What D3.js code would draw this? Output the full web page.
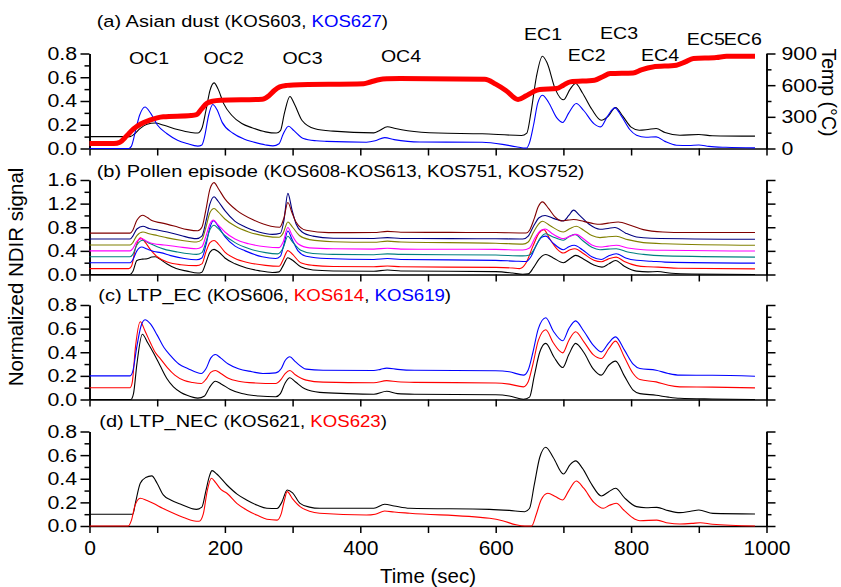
<!DOCTYPE html>
<html>
<head>
<meta charset="utf-8">
<script src="https://cdn.jsdelivr.net/npm/d3@7"></script>
<style>
  body { margin: 0; background: #fff; }
  svg { display: block; }
  text { font-family: "Liberation Sans", Arial, sans-serif; fill: #000; }
</style>
</head>
<body>
<svg id="chart" width="841" height="587"></svg>
<script>
// ---- axis ticks ----
const timeTicks = [0, 100, 200, 300, 400, 500, 600, 700, 800, 900, 1000];
const timeLabels = [0, 200, 400, 600, 800, 1000];
const signalTicks = [0, 0.2, 0.4, 0.6, 0.8];
const signalMinor = [0.1, 0.3, 0.5, 0.7];
const pollenTicks = [0, 0.4, 0.8, 1.2, 1.6];
const pollenMinor = [0.2, 0.6, 1.0, 1.4];
const tempTicks = [0, 300, 600, 900];
const tempMinor = [150, 450, 750];
const peakNames = ["OC1", "OC2", "OC3", "OC4", "EC1", "EC2", "EC3", "EC4", "EC5", "EC6"];

// ---- (a) Asian dust: [time (s), normalized signal] ----
const kos603 = [[0,0.10],[60,0.10],[66,0.12],[75,0.17],[85,0.205],[97,0.215],[110,0.195],[130,0.16],[150,0.135],[160,0.13],[166,0.17],[172,0.32],[178,0.49],[184,0.553],[190,0.5],[198,0.38],[210,0.28],[225,0.21],[240,0.175],[260,0.14],[276,0.13],[282,0.15],[288,0.3],[296,0.438],[303,0.37],[314,0.236],[333,0.166],[360,0.146],[420,0.132],[428,0.15],[440,0.183],[452,0.168],[470,0.15],[515,0.13],[580,0.124],[638,0.11],[646,0.13],[652,0.3],[660,0.6],[669,0.777],[676,0.72],[688,0.5],[700,0.41],[710,0.5],[718,0.547],[728,0.47],[742,0.33],[756,0.238],[766,0.27],[777,0.345],[788,0.27],[800,0.18],[812,0.154],[825,0.16],[837,0.168],[850,0.135],[872,0.112],[900,0.118],[920,0.108],[983,0.104]];
const kos627 = [[0,0],[58,0],[62,0.02],[68,0.15],[74,0.28],[82,0.35],[90,0.30],[100,0.2],[114,0.126],[130,0.07],[144,0.042],[160,0.02],[166,0.03],[170,0.1],[176,0.28],[182,0.37],[188,0.33],[196,0.22],[212,0.128],[228,0.08],[242,0.055],[260,0.03],[271,0.022],[280,0.04],[286,0.12],[294,0.188],[302,0.15],[316,0.084],[335,0.065],[350,0.06],[409,0.053],[422,0.065],[436,0.092],[450,0.075],[470,0.06],[488,0.055],[580,0.052],[610,0.035],[630,0.015],[645,0.003],[650,0.05],[656,0.2],[662,0.38],[669,0.449],[678,0.39],[690,0.26],[699,0.219],[708,0.3],[719,0.379],[730,0.32],[745,0.21],[755,0.182],[765,0.27],[776,0.342],[786,0.27],[798,0.16],[808,0.112],[822,0.095],[837,0.098],[850,0.06],[867,0.028],[885,0.025],[900,0.03],[915,0.018],[940,0.01],[983,0.005]];
// oven temperature program, °C
const ovenTemp = [[0,47],[36,47],[45,60],[55,120],[65,185],[75,230],[89,268],[100,290],[109,300],[150,312],[158,320],[165,370],[173,426],[182,448],[193,458],[255,467],[265,500],[273,550],[281,584],[292,598],[301,602],[405,614],[415,630],[429,654],[440,660],[459,663],[584,656],[600,610],[615,550],[633,464],[645,500],[655,536],[665,559],[690,568],[700,600],[710,631],[746,647],[758,680],[769,710],[803,716],[815,745],[832,773],[867,789],[880,820],[892,852],[926,862],[941,874],[983,874]];

// ---- (b) Pollen episode, eight samples stacked by 0.1 ----
const pollen1 = [[0,0],[60,0],[64,0.05],[70,0.238],[78,0.26],[85,0.267],[92,0.295],[97,0.30],[104,0.26],[114,0.182],[128,0.1],[144,0.057],[160,0.025],[166,0.04],[172,0.2],[178,0.38],[184,0.426],[190,0.39],[200,0.28],[215,0.18],[232,0.11],[250,0.065],[270,0.035],[280,0.045],[286,0.15],[293,0.284],[300,0.24],[312,0.13],[330,0.075],[360,0.06],[420,0.055],[440,0.075],[460,0.06],[600,0.048],[625,0.025],[640,0.003],[648,0.01],[656,0.12],[664,0.26],[674,0.338],[685,0.28],[700,0.2],[710,0.27],[718,0.323],[730,0.26],[745,0.16],[757,0.125],[767,0.18],[777,0.238],[790,0.14],[808,0.057],[825,0.045],[839,0.05],[860,0.02],[890,0.008],[983,0.0]];
const pollen2 = [[0,0.1],[58,0.1],[62,0.14],[68,0.45],[75,0.62],[82,0.55],[90,0.42],[100,0.3],[115,0.21],[135,0.165],[158,0.15],[166,0.18],[172,0.38],[178,0.54],[184,0.575],[190,0.52],[200,0.38],[215,0.27],[235,0.2],[260,0.155],[280,0.14],[286,0.25],[293,0.405],[300,0.34],[312,0.2],[330,0.155],[360,0.135],[420,0.13],[440,0.145],[460,0.13],[600,0.12],[625,0.11],[635,0.1],[645,0.2],[655,0.48],[664,0.7],[671,0.76],[680,0.6],[690,0.44],[700,0.363],[710,0.42],[717,0.437],[730,0.35],[745,0.24],[756,0.215],[766,0.26],[778,0.295],[790,0.22],[808,0.15],[825,0.13],[840,0.125],[870,0.105],[983,0.096]];
const pollen3 = [[0,0.2],[60,0.2],[64,0.25],[70,0.4],[77,0.465],[85,0.43],[95,0.39],[105,0.37],[120,0.32],[140,0.27],[158,0.25],[166,0.28],[172,0.5],[178,0.8],[183,0.91],[190,0.82],[200,0.64],[215,0.48],[230,0.4],[255,0.3],[275,0.27],[282,0.31],[287,0.5],[293,0.737],[299,0.6],[308,0.4],[320,0.31],[350,0.27],[420,0.255],[440,0.27],[460,0.255],[600,0.24],[630,0.225],[645,0.22],[652,0.3],[660,0.5],[668,0.63],[674,0.65],[684,0.54],[700,0.42],[708,0.47],[716,0.494],[728,0.42],[742,0.3],[756,0.255],[766,0.31],[778,0.352],[792,0.28],[808,0.24],[830,0.225],[850,0.21],[983,0.193]];
const pollen4 = [[0,0.3],[60,0.3],[64,0.34],[70,0.5],[79,0.579],[88,0.53],[100,0.47],[110,0.43],[130,0.38],[158,0.34],[166,0.37],[172,0.55],[178,0.76],[184,0.834],[190,0.78],[200,0.66],[215,0.54],[235,0.44],[260,0.37],[278,0.35],[286,0.45],[293,0.647],[300,0.55],[312,0.41],[330,0.355],[360,0.34],[420,0.335],[440,0.35],[460,0.34],[600,0.33],[640,0.315],[650,0.33],[658,0.45],[666,0.62],[674,0.69],[684,0.64],[700,0.58],[708,0.64],[717,0.68],[728,0.58],[742,0.46],[754,0.42],[766,0.43],[778,0.437],[795,0.38],[818,0.34],[850,0.315],[983,0.295]];
const pollen5 = [[0,0.4],[60,0.4],[64,0.44],[70,0.56],[77,0.607],[85,0.56],[95,0.52],[110,0.5],[130,0.47],[158,0.437],[166,0.47],[172,0.65],[178,0.86],[183,0.92],[190,0.84],[200,0.72],[215,0.6],[235,0.52],[260,0.47],[280,0.455],[286,0.55],[293,0.795],[299,0.67],[308,0.52],[325,0.45],[360,0.435],[420,0.43],[440,0.445],[460,0.43],[600,0.425],[640,0.415],[650,0.45],[658,0.62],[666,0.74],[673,0.77],[685,0.68],[700,0.607],[710,0.65],[719,0.68],[730,0.6],[742,0.5],[754,0.465],[766,0.48],[778,0.494],[795,0.45],[818,0.42],[850,0.41],[983,0.397]];
const pollen6 = [[0,0.5],[60,0.5],[64,0.54],[70,0.66],[79,0.72],[88,0.69],[100,0.66],[115,0.62],[135,0.58],[158,0.55],[166,0.59],[172,0.8],[178,1.05],[184,1.118],[190,1.06],[200,0.94],[215,0.82],[235,0.72],[260,0.65],[280,0.63],[286,0.7],[293,0.89],[300,0.8],[310,0.66],[325,0.59],[360,0.555],[420,0.545],[440,0.565],[460,0.55],[600,0.53],[640,0.515],[648,0.55],[656,0.72],[663,0.85],[669,0.902],[680,0.83],[700,0.72],[710,0.78],[719,0.817],[730,0.75],[742,0.66],[754,0.625],[766,0.64],[778,0.647],[795,0.59],[818,0.54],[850,0.52],[983,0.494]];
const pollen7 = [[0,0.6],[60,0.6],[64,0.65],[70,0.77],[79,0.817],[88,0.78],[100,0.755],[115,0.72],[135,0.66],[158,0.607],[166,0.65],[172,0.9],[178,1.2],[184,1.316],[190,1.24],[200,1.08],[215,0.9],[230,0.806],[250,0.72],[270,0.68],[282,0.7],[287,0.9],[293,1.373],[299,1.1],[305,0.86],[314,0.72],[330,0.65],[360,0.615],[420,0.61],[440,0.625],[460,0.61],[600,0.605],[640,0.6],[648,0.65],[656,0.82],[664,0.96],[673,1.0],[685,0.95],[700,0.907],[708,1.0],[715,1.09],[724,1.0],[738,0.85],[754,0.766],[766,0.78],[776,0.795],[792,0.7],[808,0.635],[830,0.615],[983,0.596]];
const pollen8 = [[0,0.7],[60,0.7],[64,0.75],[70,0.92],[79,1.004],[86,0.96],[93,0.908],[106,0.874],[125,0.82],[145,0.76],[160,0.74],[166,0.8],[172,1.1],[178,1.45],[184,1.555],[190,1.46],[200,1.28],[217,1.09],[243,0.919],[268,0.817],[281,0.8],[287,0.95],[293,1.22],[299,1.05],[305,0.89],[320,0.749],[353,0.709],[420,0.71],[440,0.73],[460,0.716],[600,0.71],[645,0.703],[650,0.75],[657,0.95],[663,1.15],[669,1.23],[678,1.12],[688,0.97],[697,0.907],[706,0.92],[715,0.93],[730,0.9],[745,0.86],[754,0.85],[766,0.87],[781,0.89],[800,0.83],[818,0.76],[847,0.72],[880,0.71],[983,0.71]];

// ---- (c) LTP_EC ----
const kos606 = [[0,0],[61,0],[65,0.05],[70,0.3],[78,0.553],[86,0.48],[94,0.40],[104,0.29],[114,0.18],[124,0.107],[135,0.06],[144,0.036],[160,0.012],[170,0.03],[177,0.1],[186,0.155],[195,0.13],[208,0.085],[225,0.05],[250,0.03],[275,0.023],[282,0.05],[289,0.14],[296,0.184],[304,0.15],[318,0.09],[340,0.06],[380,0.05],[420,0.045],[439,0.07],[455,0.05],[480,0.045],[600,0.04],[620,0.03],[641,0.002],[650,0.02],[657,0.2],[665,0.4],[674,0.475],[686,0.36],[699,0.271],[708,0.38],[718,0.475],[730,0.4],[744,0.26],[756,0.206],[767,0.29],[777,0.325],[790,0.2],[803,0.08],[813,0.05],[837,0.036],[855,0.02],[872,0.01],[920,0.004],[983,0.0]];
const kos614 = [[0,0.1],[60,0.1],[63,0.14],[68,0.45],[75,0.658],[82,0.58],[90,0.48],[97,0.4],[104,0.35],[115,0.27],[126,0.206],[140,0.16],[152,0.144],[165,0.135],[172,0.17],[179,0.23],[186,0.246],[194,0.22],[205,0.18],[220,0.155],[245,0.14],[275,0.135],[283,0.17],[289,0.22],[296,0.246],[304,0.21],[320,0.164],[345,0.147],[420,0.142],[439,0.16],[455,0.15],[480,0.145],[600,0.14],[620,0.13],[641,0.107],[648,0.15],[655,0.3],[663,0.5],[674,0.59],[685,0.48],[699,0.395],[708,0.5],[718,0.573],[730,0.49],[744,0.38],[756,0.347],[767,0.43],[777,0.494],[790,0.36],[803,0.22],[813,0.169],[837,0.149],[855,0.12],[872,0.107],[920,0.105],[983,0.098]];
const kos619 = [[0,0.2],[60,0.2],[64,0.24],[70,0.45],[76,0.62],[82,0.675],[90,0.64],[100,0.545],[110,0.44],[119,0.376],[132,0.3],[145,0.263],[165,0.22],[172,0.26],[179,0.35],[186,0.381],[194,0.35],[205,0.3],[220,0.26],[240,0.235],[256,0.22],[275,0.225],[283,0.26],[289,0.33],[296,0.362],[304,0.32],[320,0.257],[345,0.247],[420,0.245],[430,0.255],[439,0.266],[455,0.255],[480,0.247],[600,0.243],[620,0.235],[641,0.206],[648,0.25],[655,0.4],[663,0.6],[674,0.692],[685,0.58],[699,0.497],[708,0.6],[718,0.666],[730,0.58],[744,0.46],[756,0.403],[767,0.48],[777,0.53],[790,0.42],[803,0.3],[813,0.263],[837,0.248],[855,0.22],[872,0.206],[920,0.205],[983,0.197]];

// ---- (d) LTP_NEC ----
const kos621 = [[0,0.1],[64,0.1],[68,0.2],[75,0.362],[83,0.41],[92,0.424],[100,0.36],[109,0.263],[120,0.22],[134,0.186],[158,0.141],[166,0.16],[172,0.3],[177,0.42],[181,0.469],[188,0.44],[203,0.347],[218,0.27],[232,0.22],[248,0.175],[262,0.15],[277,0.148],[284,0.2],[292,0.305],[300,0.28],[311,0.192],[325,0.16],[340,0.15],[420,0.15],[436,0.184],[450,0.17],[473,0.15],[591,0.141],[620,0.132],[643,0.121],[650,0.15],[657,0.35],[665,0.58],[674,0.667],[685,0.58],[700,0.44],[710,0.52],[718,0.551],[728,0.49],[742,0.35],[756,0.254],[767,0.29],[777,0.319],[790,0.24],[808,0.164],[822,0.155],[838,0.158],[855,0.13],[872,0.113],[888,0.125],[900,0.136],[921,0.107],[983,0.102]];
const kos623 = [[0,0],[57,0],[62,0.05],[67,0.17],[75,0.235],[85,0.215],[94,0.192],[108,0.15],[124,0.108],[140,0.07],[153,0.045],[162,0.04],[168,0.1],[174,0.3],[180,0.404],[186,0.37],[194,0.31],[203,0.277],[218,0.19],[232,0.136],[248,0.09],[262,0.057],[277,0.05],[283,0.1],[288,0.22],[292,0.291],[300,0.23],[311,0.164],[325,0.125],[340,0.108],[409,0.093],[422,0.1],[436,0.127],[450,0.118],[473,0.108],[591,0.065],[610,0.045],[630,0.01],[643,0.0],[653,0.0],[660,0.1],[667,0.22],[677,0.277],[688,0.25],[699,0.22],[708,0.3],[719,0.381],[730,0.32],[745,0.2],[759,0.15],[768,0.175],[778,0.192],[790,0.13],[805,0.06],[813,0.045],[838,0.05],[855,0.025],[872,0.017],[890,0.022],[902,0.028],[920,0.015],[983,0.0]];

// ---------------- drawing ----------------
const svg = d3.select("#chart");
const FONT_SX = 1.15;           // horizontal glyph stretch used throughout
const x = d3.scaleLinear().domain([0, 1000]).range([89.5, 766.5]);

const HEAD = 17.4, SUB = 16.2;
const panels = [
  { top: 53.5, bottom: 148.5, max: 0.8, major: signalTicks, minor: signalMinor,
    series: [{ d: kos603, c: "#000" }, { d: kos627, c: "#0000ff" }],
    title: [["(a) Asian dust ", "#000", HEAD], ["(KOS603, ", "#000", SUB], ["KOS627", "#0000ff", SUB], [")", "#000", SUB]],
    titlePos: [96.7, 26.5] },
  { top: 180, bottom: 274.5, max: 1.6, major: pollenTicks, minor: pollenMinor,
    series: [
      { d: pollen1, c: "#000" }, { d: pollen2, c: "#ff0000" }, { d: pollen3, c: "#0000ff" },
      { d: pollen4, c: "#008080" }, { d: pollen5, c: "#ff00ff" }, { d: pollen6, c: "#808000" },
      { d: pollen7, c: "#000080" }, { d: pollen8, c: "#800000" }],
    title: [["(b) Pollen episode ", "#000", HEAD], ["(KOS608-KOS613, KOS751, KOS752)", "#000", SUB]],
    titlePos: [96.7, 176.5] },
  { top: 305, bottom: 399.5, max: 0.8, major: signalTicks, minor: signalMinor,
    series: [{ d: kos606, c: "#000" }, { d: kos614, c: "#ff0000" }, { d: kos619, c: "#0000ff" }],
    title: [["(c) LTP_EC ", "#000", HEAD], ["(KOS606, ", "#000", SUB], ["KOS614", "#ff0000", SUB], [", ", "#000", SUB], ["KOS619", "#0000ff", SUB], [")", "#000", SUB]],
    titlePos: [98.3, 301] },
  { top: 431.5, bottom: 526, max: 0.8, major: signalTicks, minor: signalMinor,
    series: [{ d: kos621, c: "#000" }, { d: kos623, c: "#ff0000" }],
    title: [["(d) LTP_NEC ", "#000", HEAD], ["(KOS621, ", "#000", SUB], ["KOS623", "#ff0000", SUB], [")", "#000", SUB]],
    titlePos: [99.3, 427] }
];

function stretchLabels(g, sx, size) {
  g.selectAll(".tick text").each(function () {
    const t = d3.select(this);
    const x0 = +t.attr("x") || 0;
    t.attr("x", x0 / sx).attr("transform", `scale(${sx},1)`)
     .attr("font-size", size).attr("font-family", null).attr("fill", "#000");
  });
}

function cleanAxis(g) {
  g.attr("font-family", null).attr("font-size", null);
  g.selectAll(".tick line").attr("stroke", "#000").attr("stroke-width", 1.5);
  g.select(".domain").attr("stroke", "#000").attr("stroke-width", 1.6);
}

panels.forEach((p, i) => {
  const y = d3.scaleLinear().domain([0, p.max]).range([p.bottom, p.top]);
  const g = svg.append("g");

  // left axis: minor ticks then labelled majors
  g.append("g").attr("transform", `translate(${x(0)},0)`)
    .call(d3.axisLeft(y).tickValues(p.minor).tickSize(5).tickFormat("").tickSizeOuter(0))
    .call(cleanAxis);
  const la = g.append("g").attr("transform", `translate(${x(0)},0)`)
    .call(d3.axisLeft(y).tickValues(p.major).tickSize(9).tickPadding(3.5).tickFormat(d3.format(".1f")).tickSizeOuter(0))
    .call(cleanAxis);
  stretchLabels(la, FONT_SX, 18.5);

  // right axis
  if (i === 0) {
    const yt = d3.scaleLinear().domain([0, 900]).range([p.bottom, p.top]);
    g.append("g").attr("transform", `translate(${x(1000)},0)`)
      .call(d3.axisRight(yt).tickValues(tempMinor).tickSize(5).tickFormat("").tickSizeOuter(0))
      .call(cleanAxis);
    const ra = g.append("g").attr("transform", `translate(${x(1000)},0)`)
      .call(d3.axisRight(yt).tickValues(tempTicks).tickSize(9).tickPadding(6).tickFormat(d3.format("d")).tickSizeOuter(0))
      .call(cleanAxis);
    stretchLabels(ra, FONT_SX, 18.5);
  } else {
    g.append("g").attr("transform", `translate(${x(1000)},0)`)
      .call(d3.axisRight(y).tickValues(p.minor).tickSize(5).tickFormat("").tickSizeOuter(0))
      .call(cleanAxis);
    g.append("g").attr("transform", `translate(${x(1000)},0)`)
      .call(d3.axisRight(y).tickValues(p.major).tickSize(9).tickFormat("").tickSizeOuter(0))
      .call(cleanAxis);
  }

  // bottom time axis
  const last = i === panels.length - 1;
  const ba = g.append("g").attr("transform", `translate(0,${p.bottom})`)
    .call(d3.axisBottom(x).tickValues(timeTicks).tickSize(7).tickPadding(8.5).tickSizeOuter(0)
      .tickFormat(d => (last && timeLabels.includes(d)) ? d : ""))
    .call(cleanAxis);
  stretchLabels(ba, 1.08, 19.5);

  // traces
  const line = d3.line().x(d => x(d[0])).y(d => y(d[1])).curve(d3.curveMonotoneX);
  p.series.forEach(s => {
    g.append("path").attr("d", line(s.d)).attr("fill", "none")
      .attr("stroke", s.c).attr("stroke-width", 1.1).attr("stroke-linejoin", "round");
  });

  if (i === 0) {
    const yt = d3.scaleLinear().domain([0, 900]).range([p.bottom, p.top]);
    const tline = d3.line().x(d => x(d[0])).y(d => yt(d[1])).curve(d3.curveMonotoneX);
    g.append("path").attr("d", tline(ovenTemp)).attr("fill", "none")
      .attr("stroke", "#ff0000").attr("stroke-width", 5).attr("stroke-linejoin", "round");
  }

  // panel heading
  const tt = svg.append("text").attr("xml:space", "preserve")
    .attr("transform", `translate(${p.titlePos[0]},${p.titlePos[1]}) scale(${FONT_SX},1)`);
  p.title.forEach(([txt, col, fs]) => {
    tt.append("tspan").text(txt).attr("fill", col).attr("font-size", fs).style("white-space", "pre");
  });
});

// thermal fraction labels
const peakLabelPos = [[149, 64], [223.7, 64], [302.5, 64], [401, 62], [543, 39.5],
                      [586.7, 61], [619, 38.5], [660, 61], [705.8, 44.5], [742.8, 44.5]];
peakNames.forEach((n, k) => {
  svg.append("text")
    .attr("transform", `translate(${peakLabelPos[k][0]},${peakLabelPos[k][1]}) scale(${FONT_SX},1)`)
    .attr("text-anchor", "middle").attr("font-size", 17).text(n);
});

// axis titles
svg.append("text").attr("transform", "translate(23,277) rotate(-90)")
  .attr("text-anchor", "middle").attr("font-size", 20.5).text("Normalized NDIR signal");
svg.append("text").attr("transform", "translate(822,92.5) rotate(90)")
  .attr("text-anchor", "middle").attr("font-size", 19.5).text("Temp (\u00B0C)");
svg.append("text").attr("transform", `translate(${x(500)},582.5) scale(1.05,1)`)
  .attr("text-anchor", "middle").attr("font-size", 19.5).text("Time (sec)");
</script>
</body>
</html>
